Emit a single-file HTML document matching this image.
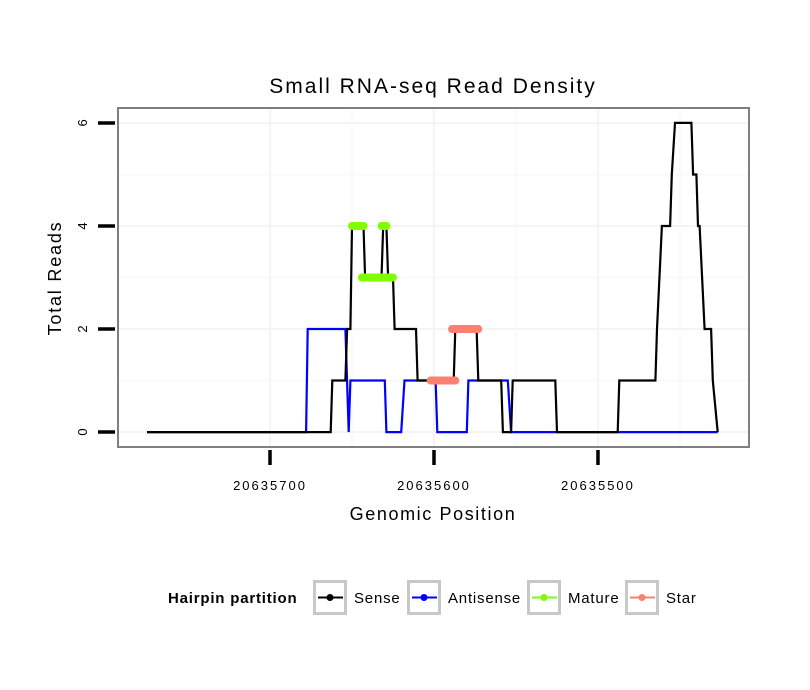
<!DOCTYPE html>
<html><head><meta charset="utf-8"><style>
body{margin:0;background:#fff;}
svg{display:block;font-family:"Liberation Sans",sans-serif;}
</style></head><body>
<svg id="c" width="810" height="690" xmlns="http://www.w3.org/2000/svg">
<text x="433" y="93" font-size="21" letter-spacing="2" text-anchor="middle">Small RNA-seq Read Density</text>
<rect x="118" y="108" width="631" height="339" fill="#fff"/>
<g id="grid"></g>
<g id="series"></g>
<rect x="118" y="108" width="631" height="339" fill="none" stroke="#7f7f7f" stroke-width="2"/>
<g id="axes"></g>
<text x="433" y="520" font-size="18" letter-spacing="1.6" text-anchor="middle">Genomic Position</text>
<text transform="translate(61,278) rotate(-90)" font-size="18" letter-spacing="1.8" text-anchor="middle">Total Reads</text>
<g>
<text x="168" y="603" font-size="15" letter-spacing="0.8" font-weight="bold">Hairpin partition</text>
<g id="legend"></g>
</g>
</svg>
<script>
const xTicks=[20635700,20635600,20635500];
const yTicks=[0,2,4,6];
const sensePos=[20635775,20635663,20635662,20635654,20635653,20635651,20635650,20635643,20635642,20635632,20635631,20635629,20635628,20635625,20635624,20635611,20635610,20635588,20635587,20635574,20635573,20635559,20635558,20635553,20635552,20635526,20635525,20635488,20635487,20635465,20635464,20635461,20635456,20635455,20635453,20635443,20635442,20635440,20635439,20635438,20635435,20635431,20635430,20635427];
const senseVal=[0,0,1,1,2,2,4,4,3,3,4,4,3,3,2,2,1,1,2,2,1,1,0,0,1,1,0,0,1,1,2,4,4,5,6,6,5,5,4,4,2,2,1,0];
const antiPos=[20635775,20635678,20635677,20635654,20635652,20635651,20635630,20635629,20635620,20635618,20635599,20635598,20635580,20635579,20635555,20635553,20635427];
const antiVal=[0,0,2,2,0,1,1,0,0,1,1,0,0,1,1,0,0];
const matureStart=[20635650,20635632,20635644];
const matureEnd=[20635643,20635629,20635625];
const matureVal=[4,4,3];
const starStart=[20635589,20635602];
const starEnd=[20635573,20635587];
const starVal=[2,1];
const legendLabels=["Sense","Antisense","Mature","Star"];
const legendColors=["#000","#0000ff","#7fff00","#fa8072"];

const NS="http://www.w3.org/2000/svg";
const X0=118,X1=749,Y0=447,Y1=108;
const D0=20635792.7,D1=20635407.9,R0=-0.29,R1=6.29;
function sx(p){return X0+(p-D0)/(D1-D0)*(X1-X0);}
function sy(v){return Y0+(v-R0)/(R1-R0)*(Y1-Y0);}
function mk(t,a,parent){const e=document.createElementNS(NS,t);for(const k in a)e.setAttribute(k,a[k]);parent.appendChild(e);return e;}
const grid=document.getElementById('grid'),ser=document.getElementById('series'),ax=document.getElementById('axes'),leg=document.getElementById('legend');
for(let i=0;i<yTicks.length;i++){
  const l=mk('line',{x1:X0,x2:X1,y1:sy(yTicks[i]),y2:sy(yTicks[i]),stroke:'#f4f4f4','stroke-width':2},grid);
  
  
  if(i<yTicks.length-1){const m=mk('line',{x1:X0,x2:X1,y1:sy((yTicks[i]+yTicks[i+1])/2),y2:sy((yTicks[i]+yTicks[i+1])/2),stroke:'#f8f8f8','stroke-width':1.5},grid);
  
  }
}
for(let i=0;i<xTicks.length;i++){
  const l=mk('line',{x1:sx(xTicks[i]),x2:sx(xTicks[i]),y1:Y0,y2:Y1,stroke:'#f4f4f4','stroke-width':2},grid);
  
  
  const m=mk('line',{x1:sx(xTicks[i]-50),x2:sx(xTicks[i]-50),y1:Y0,y2:Y1,stroke:'#f8f8f8','stroke-width':1.5},grid);
  
  
}
xTicks.forEach(t=>{
  const l=mk('line',{x1:sx(t),x2:sx(t),y1:450,y2:465,stroke:'#000','stroke-width':3.5},ax);
  
  
  const tx=mk('text',{x:sx(t),y:490,'font-size':13,'letter-spacing':2,'text-anchor':'middle'},ax);tx.textContent=t;
  
  
});
yTicks.forEach(t=>{
  const l=mk('line',{x1:98,x2:115,y1:sy(t),y2:sy(t),stroke:'#000','stroke-width':3.5},ax);
  
  
  const tx=mk('text',{transform:`translate(87,${sy(t)}) rotate(-90)`,'font-size':13,'text-anchor':'middle'},ax);tx.textContent=t;
  
  
});
function line(pos,val,color,name){
  const d=pos.map((p,i)=>(i?'L':'M')+sx(p).toFixed(1)+','+sy(val[i]).toFixed(1)).join('');
  const e=mk('path',{d:d,fill:'none',stroke:color,'stroke-width':2.2},ser);
  
  
}
line(antiPos,antiVal,'#0000ff','antisense-line');
line(sensePos,senseVal,'#000','sense-line');
function segs(s,e,v,color,name){
  for(let i=0;i<s.length;i++){
    const l=mk('line',{x1:sx(s[i]),x2:sx(e[i]),y1:sy(v[i]),y2:sy(v[i]),stroke:color,'stroke-width':8,'stroke-linecap':'round'},ser);
    
    
  }
}
segs(matureStart,matureEnd,matureVal,'#7fff00','mature-segment');
segs(starStart,starEnd,starVal,'#fa8072','star-segment');
const boxX=[313,407,527,625];
legendLabels.forEach((lab,i)=>{
  const g=mk('g',{},leg);
  
  
  mk('rect',{x:boxX[i]+1.5,y:581.5,width:31,height:32,fill:'#fff',stroke:'#c8c8c8','stroke-width':3},g);
  mk('line',{x1:boxX[i]+5,x2:boxX[i]+30,y1:597.5,y2:597.5,stroke:legendColors[i],'stroke-width':2},g);
  mk('circle',{cx:boxX[i]+17,cy:597.5,r:3.5,fill:legendColors[i]},g);
  const t=mk('text',{x:boxX[i]+41,y:603,'font-size':15,'letter-spacing':0.8},g);t.textContent=lab;
});
</script>
</body></html>
